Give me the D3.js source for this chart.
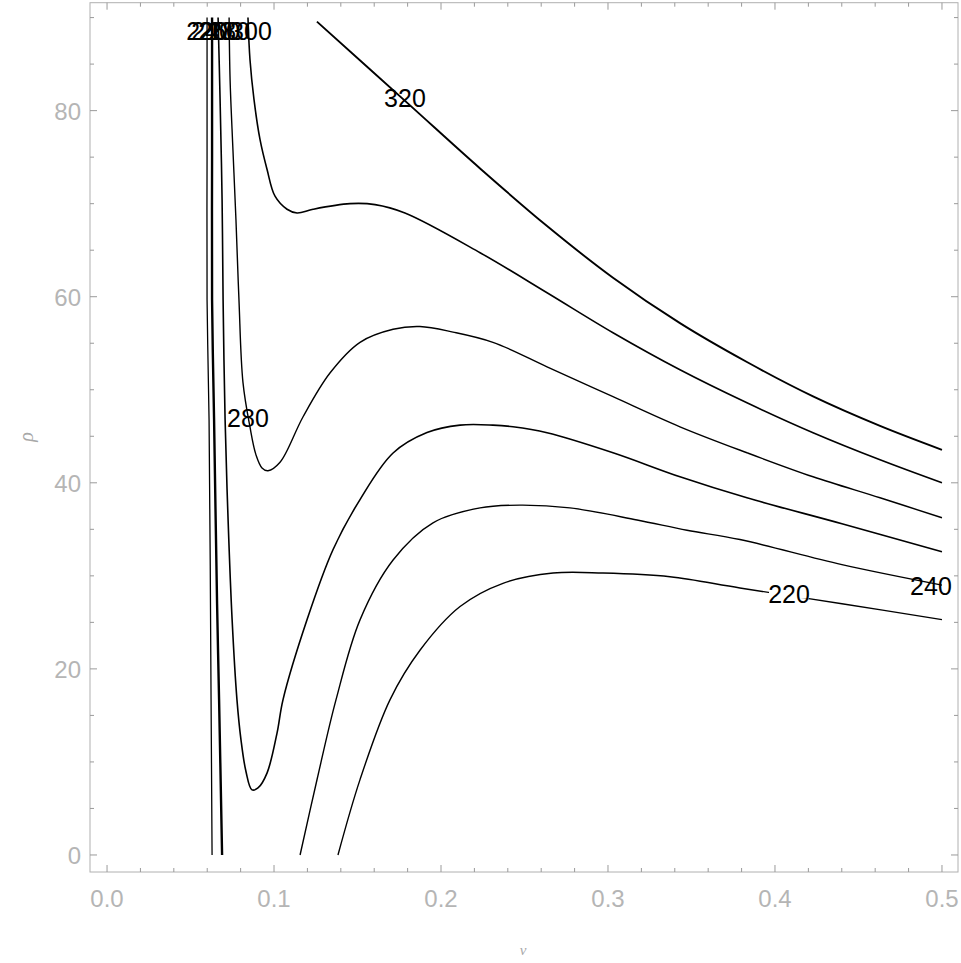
<!DOCTYPE html>
<html><head><meta charset="utf-8">
<script src="https://cdn.jsdelivr.net/npm/d3@7"></script>
<style>body{margin:0;background:#fff}svg{display:block}</style>
</head><body>
<svg id="chart" width="961" height="963"></svg>
<script>
// ---- axis ticks ----
const xTickValues = [0, 0.1, 0.2, 0.3, 0.4, 0.5];
const xTickLabels = ["0.0", "0.1", "0.2", "0.3", "0.4", "0.5"];
const yTickValues = [0, 20, 40, 60, 80];
const yTickLabels = ["0", "20", "40", "60", "80"];

// ---- contour lines, points [v, rho] ----
const contour320 = [[0.1257,89.57],[0.1808,80.67],[0.2234,73.78],[0.2635,67.6],[0.303,62.04],[0.3431,57.16],[0.3832,52.98],[0.4228,49.29],[0.4629,46.12],[0.5,43.55]];
const contour300 = [[0.0844,90],[0.0856,85.5],[0.088,81.2],[0.0916,76.9],[0.0958,73.7],[0.1006,70.8],[0.1078,69.4],[0.1138,69.0],[0.1234,69.4],[0.1455,70.0],[0.1605,69.9],[0.1784,69.0],[0.2234,64.73],[0.2635,60.43],[0.303,56.13],[0.3431,52.15],[0.3832,48.6],[0.4228,45.38],[0.4629,42.47],[0.5,40.0]];
const contour280 = [[0.0731,90],[0.0737,83.3],[0.0754,75.8],[0.0772,68.3],[0.079,59.7],[0.0814,50.8],[0.0856,46.0],[0.0892,43.0],[0.0928,41.6],[0.0964,41.3],[0.1036,42.2],[0.1174,47.1],[0.1335,51.8],[0.1515,55.1],[0.1713,56.5],[0.1874,56.8],[0.2072,56.2],[0.2311,55.1],[0.2635,52.47],[0.303,49.25],[0.3431,46.02],[0.3832,43.23],[0.4228,40.65],[0.4629,38.39],[0.5,36.24]];
const contour260 = [[0.0665,90],[0.0677,81.2],[0.0689,70.4],[0.0695,59.7],[0.0707,46.8],[0.0725,36.0],[0.0749,25.3],[0.0778,16.7],[0.0802,12.4],[0.0832,8.97],[0.0868,7.0],[0.0904,7.2],[0.0958,8.8],[0.1018,13.1],[0.1054,16.7],[0.1198,25.3],[0.1353,32.8],[0.1515,38.2],[0.1713,43.2],[0.1916,45.4],[0.2114,46.2],[0.2311,46.2],[0.2431,46.02],[0.2635,45.38],[0.303,43.23],[0.3431,40.65],[0.3832,38.39],[0.4401,35.6],[0.5,32.58]];
const contour240 = [[0.1156,0],[0.1257,8.06],[0.1371,16.67],[0.1515,25.27],[0.1713,31.7],[0.1952,35.7],[0.2234,37.3],[0.2473,37.6],[0.2772,37.3],[0.3174,36.0],[0.3473,34.9],[0.379,33.9],[0.4401,31.2],[0.5,29.0]];
const contour220 = [[0.1383,0],[0.1515,8.1],[0.1695,16.7],[0.1874,22.0],[0.2114,26.7],[0.2371,29.2],[0.2671,30.3],[0.297,30.3],[0.3371,29.9],[0.379,28.7],[0.4401,27.0],[0.5,25.3]];
// near-vertical branches at small v
const branch220 = [[0.0599,90],[0.0599,75],[0.0599,59.7],[0.0611,46.8],[0.0623,16.7],[0.0629,0]];
const branch240 = [[0.0629,90],[0.0629,75],[0.0629,59.7],[0.0641,46.8],[0.0659,27.0],[0.0671,16.7],[0.0689,0]];

const contours = [
  {level: 320, pts: contour320, w: 1.9},
  {level: 300, pts: contour300, w: 1.6},
  {level: 280, pts: contour280, w: 1.4},
  {level: 260, pts: contour260, w: 1.6},
  {level: 240, pts: contour240, w: 1.4},
  {level: 220, pts: contour220, w: 1.4},
  {level: 220, pts: branch220, w: 1.3},
  {level: 240, pts: branch240, w: 2.4}
];

// contour label anchors
const labelText = ["320", "280", "240", "220", "220", "240", "260", "280", "300"];
const labelV    = [0.1784, 0.0844, 0.4934, 0.4084, 0.0599, 0.0629, 0.0671, 0.0731, 0.0862];
const labelRho  = [81.5, 47.1, 29.0, 28.2, 88.7, 88.7, 88.7, 88.7, 88.7];

// ---- scales ----
const svg = d3.select("#chart");
const x = d3.scaleLinear().domain([-0.0102, 0.5096]).range([90, 958]);
const y = d3.scaleLinear().domain([-1.83, 91.6]).range([872, 2.7]);

// frame
svg.append("rect").attr("x", 90).attr("y", 2.7).attr("width", 868).attr("height", 869.3)
  .attr("fill", "none").attr("stroke", "#b0b0b0").attr("stroke-width", 1);

// ticks
const xMinor = d3.range(0, 0.5001, 0.02).filter(t => Math.abs(t*10 - Math.round(t*10)) > 1e-6);
const yMinor = d3.range(0, 90.01, 5).filter(t => t % 20 !== 0);
const tickG = svg.append("g").attr("stroke", "#9a9a9a").attr("stroke-width", 1);
function xt(vals, len) {
  vals.forEach(t => {
    tickG.append("line").attr("x1", x(t)).attr("x2", x(t)).attr("y1", 872).attr("y2", 872 - len);
    tickG.append("line").attr("x1", x(t)).attr("x2", x(t)).attr("y1", 2.7).attr("y2", 2.7 + len);
  });
}
function yt(vals, len) {
  vals.forEach(t => {
    tickG.append("line").attr("y1", y(t)).attr("y2", y(t)).attr("x1", 90).attr("x2", 90 + len);
    tickG.append("line").attr("y1", y(t)).attr("y2", y(t)).attr("x1", 958).attr("x2", 958 - len);
  });
}
xt(xTickValues, 7); xt(xMinor, 4);
yt(yTickValues, 7); yt(yMinor, 4);

// tick labels
svg.append("g").selectAll("text").data(xTickValues).join("text")
  .attr("x", d => x(d)).attr("y", 898).attr("text-anchor", "middle").attr("dominant-baseline", "central")
  .attr("font-family", "Liberation Sans, Arial, sans-serif").attr("font-size", 24).attr("fill", "#b5b5b5")
  .text((d, i) => xTickLabels[i]);
svg.append("g").selectAll("text").data(yTickValues).join("text")
  .attr("x", 81).attr("y", d => y(d) + 1).attr("text-anchor", "end").attr("dominant-baseline", "central")
  .attr("font-family", "Liberation Sans, Arial, sans-serif").attr("font-size", 24).attr("fill", "#b5b5b5")
  .text((d, i) => yTickLabels[i]);

// axis labels
svg.append("text").attr("transform", "translate(26,437) rotate(-90)")
  .attr("text-anchor", "middle").attr("dominant-baseline", "central")
  .attr("font-family", "Liberation Serif, serif").attr("font-style", "italic").attr("font-size", 20)
  .attr("fill", "#a8a8a8").text("ρ");
svg.append("text").attr("x", 523).attr("y", 950)
  .attr("text-anchor", "middle").attr("dominant-baseline", "central")
  .attr("font-family", "Liberation Serif, serif").attr("font-style", "italic").attr("font-size", 15)
  .attr("fill", "#a8a8a8").text("v");

// contours
svg.append("clipPath").attr("id", "clip").append("rect")
  .attr("x", 90).attr("y", 2.7).attr("width", 868).attr("height", 869.3);
const line = d3.line().x(d => x(d[0])).y(d => y(d[1])).curve(d3.curveCatmullRom.alpha(0.5));
svg.append("g").attr("clip-path", "url(#clip)").selectAll("path").data(contours).join("path")
  .attr("d", d => line(d.pts)).attr("fill", "none").attr("stroke", "#000")
  .attr("stroke-width", d => d.w).attr("stroke-linejoin", "round");

// labels
const lg = svg.append("g");
labelText.forEach((t, i) => {
  if (i === 3) {
    lg.append("rect").attr("x", x(labelV[i]) - 20).attr("y", y(labelRho[i]) - 8)
      .attr("width", 40).attr("height", 14).attr("fill", "#fff");
  }
  lg.append("text").attr("x", x(labelV[i])).attr("y", y(labelRho[i]) + 1)
    .attr("text-anchor", "middle").attr("dominant-baseline", "central")
    .attr("font-family", "Liberation Sans, Arial, sans-serif").attr("font-size", 25)
    .attr("fill", "#000").text(t);
});
</script>
</body></html>
